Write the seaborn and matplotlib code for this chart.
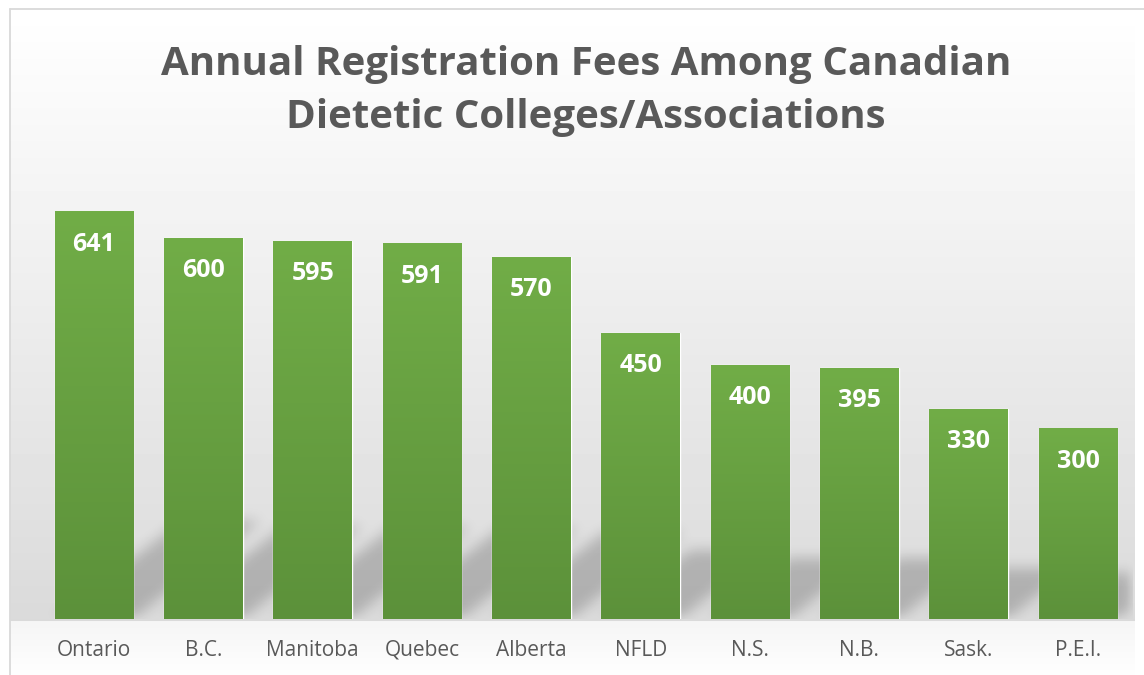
import numpy as np
import pandas as pd
import matplotlib
matplotlib.use("Agg")
import matplotlib.pyplot as plt
import seaborn as sns
from matplotlib.lines import Line2D

provinces = ["Ontario", "B.C.", "Manitoba", "Quebec", "Alberta",
             "NFLD", "N.S.", "N.B.", "Sask.", "P.E.I."]
fees = [641, 600, 595, 591, 570, 450, 400, 395, 330, 300]

title = "Annual Registration Fees Among Canadian\nDietetic Colleges/Associations"

sns.set_theme(style="white")
plt.rcParams["font.family"] = ["Open Sans", "DejaVu Sans"]

W, H = 1144, 675
fig = plt.figure(figsize=(W / 100, H / 100), dpi=100)
fig.patch.set_facecolor("white")

# chart background: light gradient down to the baseline, near white below
bg = fig.add_axes([0, 0, 1, 1], zorder=0)
rows = np.arange(H)
top_y, base_y = 9, 621
shade = np.where(rows < base_y,
                 255 - (rows - top_y).clip(0) / (base_y - top_y) * 37,
                 245 + (rows - base_y) / (H - base_y) * 9)
img = np.full((H, W), 255.0)
img[:, 10:1135] = shade[:, None]
bg.imshow(img, cmap="gray", vmin=0, vmax=255, aspect="auto", extent=(0, W, H, 0))
bg.set_xlim(0, W)
bg.set_ylim(H, 0)
bg.axis("off")

ax = fig.add_axes([39.3 / W, 56 / H, 1093.4 / W, 444.5 / H], zorder=1)
ax.patch.set_alpha(0)

df = pd.DataFrame({"province": provinces, "fee": fees})
bar_w = 0.72
sns.barplot(data=df, x="province", y="fee", color="#6aa443", width=bar_w,
            saturation=1, ax=ax, zorder=3)

YMAX = 700
ax.set_xlim(-0.5, len(provinces) - 0.5)
ax.set_ylim(0, YMAX)

# perspective shadow behind each bar (skewed, squashed, blurred)
nx, ny = 1094, 445
xs = np.linspace(-0.5, len(provinces) - 0.5, nx)
ys = np.linspace(0, YMAX, ny)
X, Y = np.meshgrid(xs, ys)
skew = 1.3 * (ny / YMAX) / (nx / len(provinces))
mask = np.zeros_like(X)
for i, v in enumerate(fees):
    sx = X - i - Y * skew
    mask[(Y <= 0.24 * v) & (np.abs(sx) <= bar_w / 2)] = 1.0


def box_blur(a, r, passes=3):
    k = np.ones(2 * r + 1) / (2 * r + 1)
    for _ in range(passes):
        a = np.apply_along_axis(lambda m: np.convolve(m, k, mode="same"), 1, a)
        a = np.apply_along_axis(lambda m: np.convolve(m, k, mode="same"), 0, a)
    return a


mask = box_blur(mask, 6)
shadow = np.zeros((ny, nx, 4))
shadow[..., 3] = mask * 0.2
ax.imshow(shadow, origin="lower", aspect="auto",
          extent=(-0.5, len(provinces) - 0.5, 0, YMAX), zorder=2)

# green gradient fill on the bars
top_c = np.array([113, 173, 71]) / 255
bot_c = np.array([92, 145, 58]) / 255
grad = np.linspace(0, 1, 256)[:, None, None]
grad_img = bot_c + (top_c - bot_c) * grad
for p in ax.patches:
    x0, w, h = p.get_x(), p.get_width(), p.get_height()
    ax.imshow(grad_img, origin="lower", aspect="auto",
              extent=(x0, x0 + w, 0, h), zorder=3.5)

for i, v in enumerate(fees):
    ax.annotate(str(v), (i, v), xytext=(0, -39), textcoords="offset pixels",
                ha="center", va="baseline", color="white",
                fontsize=18, fontweight="bold", zorder=5)

ax.set_xlim(-0.5, len(provinces) - 0.5)
ax.set_ylim(0, YMAX)
ax.set_xlabel("")
ax.set_ylabel("")
ax.set_yticks([])
ax.tick_params(axis="x", length=0, pad=15, labelsize=15, labelcolor="#595959")
sns.despine(ax=ax, left=True, bottom=True)

fig.text(0.512, 1 - 45 / H, title, ha="center", va="top", fontsize=29,
         fontweight="bold", color="#595959", linespacing=1.47)

fig.add_artist(Line2D([9.5 / W, 9.5 / W], [0, 1 - 8.5 / H],
                      transform=fig.transFigure, color="#d9d9d9", lw=1.3))
fig.add_artist(Line2D([9.5 / W, 1], [1 - 8.5 / H, 1 - 8.5 / H],
                      transform=fig.transFigure, color="#d9d9d9", lw=1.3))

fig.savefig("out.png", dpi=100)
